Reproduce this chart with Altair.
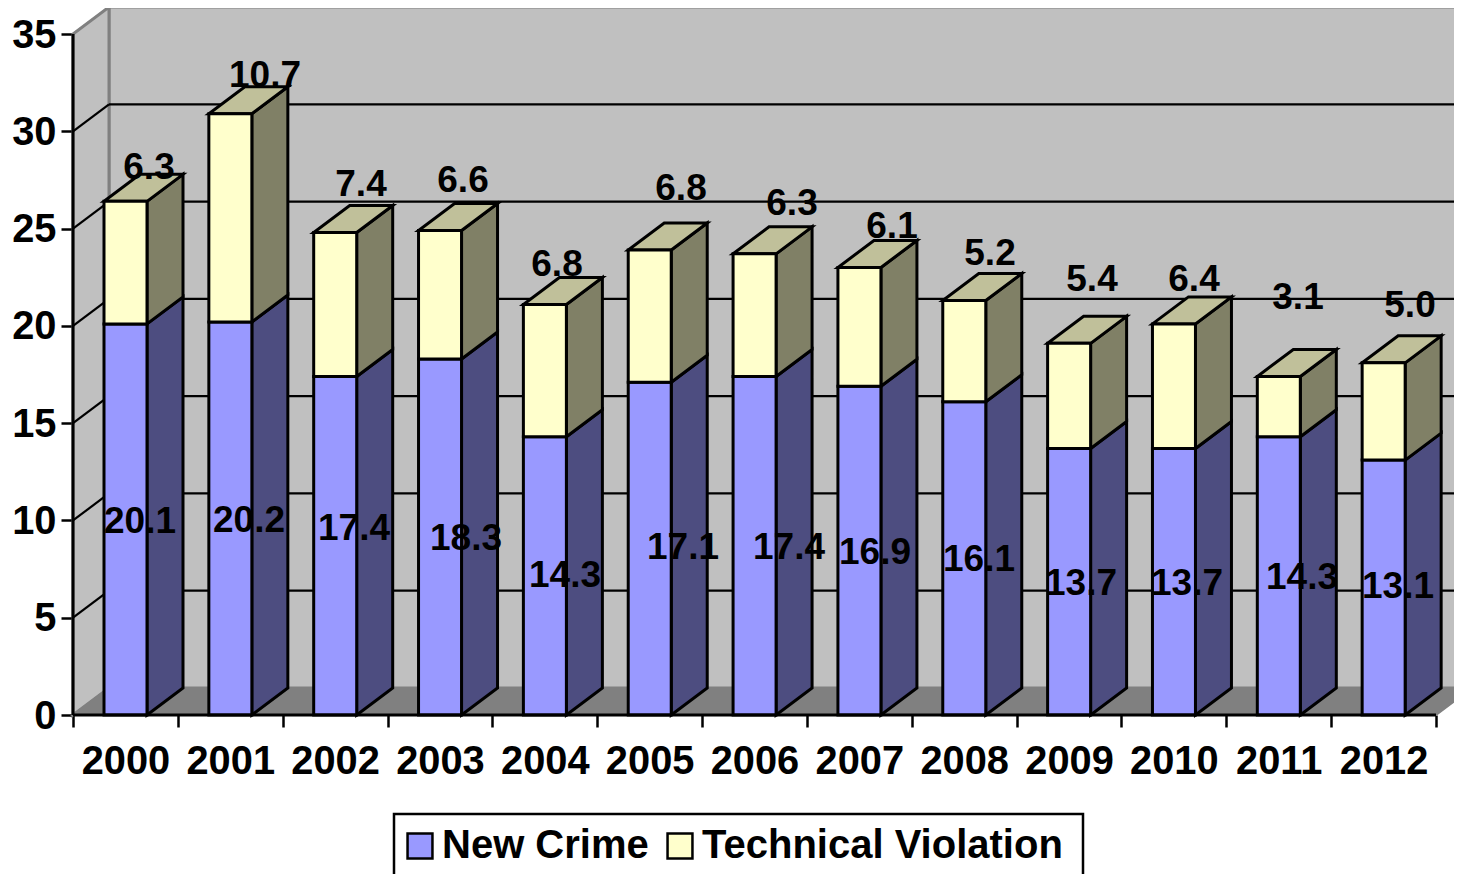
import altair as alt
import pandas as pd

years = list(range(2000, 2013))
new_crime = [20.1, 20.2, 17.4, 18.3, 14.3, 17.1, 17.4, 16.9, 16.1, 13.7, 13.7, 14.3, 13.1]
technical = [6.3, 10.7, 7.4, 6.6, 6.8, 6.8, 6.3, 6.1, 5.2, 5.4, 6.4, 3.1, 5.0]
y_ticks = [0, 5, 10, 15, 20, 25, 30, 35]

# label centres (page px)
new_lab_x = [140, 249, 354, 466, 565, 683, 789, 875, 979, 1081, 1187, 1302, 1398]
new_lab_y = [520, 519, 527, 537, 574, 546, 546, 551, 558, 582, 582, 576, 585]
tec_lab_x = [149, 265, 361, 463, 557, 681, 792, 892, 990, 1092, 1194, 1298, 1410]
tec_lab_y = [166, 74, 183, 179, 263, 187, 202, 225, 252, 278, 278, 296, 304]

UX = 104.846
UY = 19.457
X0, Y0 = 73, 715
W, H = 1446, 866
dx, dy = 36 / UX, 27 / UY
bar_l, bar_w = 31 / UX, 43 / UX

xs = alt.Scale(domain=[(8 - X0) / UX, (8 + W - X0) / UX], nice=False, zero=False)
ys = alt.Scale(domain=[(Y0 - 8 - H) / UY, (Y0 - 8) / UY], nice=False, zero=False)
X = lambda f="x", **k: alt.X(f + ":Q", scale=xs, title=None, **k)
Y = lambda f="y", **k: alt.Y(f + ":Q", scale=ys, title=None, **k)

WALL, FLOOR, EDGE = "#C0C0C0", "#808080", "#808080"
BLUE, BLUE_SIDE = "#9999FF", "#4D4D80"
YEL, YEL_SIDE, YEL_TOP = "#FFFFCC", "#808066", "#C0C09A"


def para(rows, gid, x, lo0, hi0):
    for a, b, c in zip(x, lo0, hi0):
        rows.append(dict(g=gid, px=a, lo=b, hi=c))


def area(rows, fill, stroke, sw=3):
    return alt.Chart(pd.DataFrame(rows)).mark_area(
        fill=fill, stroke=stroke, strokeWidth=sw, opacity=1, interpolate="linear", orient="vertical"
    ).encode(x=X("px"), y=alt.Y("lo:Q", scale=ys, title=None, stack=None), y2=alt.Y2("hi"), detail="g:N")


# walls
left_wall = []
para(left_wall, 0, [0, dx], [0, dy], [35, 35 + dy])
floor = []
para(floor, 0, [0, dx, 13, 13 + dx], [0, 0, 0, dy], [0, dy, dy, dy])
back = pd.DataFrame([dict(x=dx, x2=13 + dx + 0.5, y=dy, y2=35 + dy)])

back_rect = alt.Chart(back).mark_rect(fill=WALL, stroke=EDGE, strokeWidth=3).encode(
    x=X(), x2="x2:Q", y=Y(), y2="y2:Q")

grid_df = pd.DataFrame([dict(x=dx, x2=13 + dx, y=v + dy) for v in y_ticks[1:-1]])
grid = alt.Chart(grid_df).mark_rule(color="black", strokeWidth=2.2).encode(
    x=X(), x2="x2:Q", y=Y())

diag = []
for v in y_ticks[1:-1]:
    diag += [dict(g=v, x=0, y=v), dict(g=v, x=dx, y=v + dy)]
diag_l = alt.Chart(pd.DataFrame(diag)).mark_line(color="black", strokeWidth=2.2).encode(
    x=X(), y=Y(), detail="g:N")

# bars
sides_b, sides_y, tops, fronts = [], [], [], []
for i, (a, b) in enumerate(zip(new_crime, technical)):
    l = i + bar_l
    r = l + bar_w
    t = a + b
    para(sides_b, i, [r, r + dx], [0, dy], [a, a + dy])
    para(sides_y, i, [r, r + dx], [a, a + dy], [t, t + dy])
    para(tops, i, [l, l + dx, r, r + dx], [t, t, t, t + dy], [t, t + dy, t + dy, t + dy])
    fronts.append(dict(s="New Crime", x=l, x2=r, y=0, y2=a))
    fronts.append(dict(s="Technical Violation", x=l, x2=r, y=a, y2=t))

front = alt.Chart(pd.DataFrame(fronts)).mark_rect(stroke="black", strokeWidth=3).encode(
    x=X(), x2="x2:Q", y=Y(), y2="y2:Q",
    color=alt.Color("s:N", scale=alt.Scale(domain=["New Crime", "Technical Violation"], range=[BLUE, YEL]),
                    legend=alt.Legend(
                        title=None, orient="none", legendX=392, legendY=818, direction="horizontal",
                        symbolType="square", symbolSize=620, symbolStrokeColor="black", symbolStrokeWidth=2.5,
                        labelFont="Liberation Sans", labelFontWeight="bold", labelFontSize=40,
                        labelColor="black", labelLimit=500, padding=0, columnPadding=11, labelOffset=2,
                        symbolOpacity=1, zindex=1)),
)

# frame of the legend
legend_box = alt.Chart(pd.DataFrame([dict(
    x=(394 - X0) / UX, x2=(1083 - X0) / UX, y=(Y0 - 814) / UY, y2=(Y0 - 890) / UY)])).mark_rect(
    fill="white", stroke="black", strokeWidth=2.5).encode(x=X(), x2="x2:Q", y=Y(), y2="y2:Q")

# axis lines + real axes
axis_df = pd.DataFrame([dict(x=0, x2=13, y=0)])
x_line = alt.Chart(axis_df).mark_rule(color="black", strokeWidth=3).encode(x=X(), x2="x2:Q", y=Y())
y_line = alt.Chart(pd.DataFrame([dict(x=0, y=0, y2=35)])).mark_rule(color="black", strokeWidth=3).encode(
    x=X(), y=Y(), y2="y2:Q")

axes = alt.Chart(pd.DataFrame([dict(x=0, y=0)])).mark_point(opacity=0).encode(
    x=X(axis=alt.Axis(values=list(range(14)), offset=-(8 + H - Y0), domain=False, grid=False, tickColor="black",
                      tickWidth=2.5, tickSize=12, labelFont="Liberation Sans", labelFontWeight="bold",
                      labelFontSize=39.8, labelColor="black", labelPadding=15, labelOffset=52.4,
                      labelFlush=False, labelOverlap=False, labelAngle=0, labelAlign="center",
                      labelExpr="datum.value < 13 ? '' + (2000 + datum.value) : ''")),
    y=Y(axis=alt.Axis(values=y_ticks, offset=-(X0 - 8), domain=False, grid=False, tickColor="black",
                      tickWidth=2.5, tickSize=12, labelFont="Liberation Sans", labelFontWeight="bold",
                      labelFontSize=39.8, labelColor="black", labelPadding=5, labelFlush=False,
                      labelOverlap=False, labelOffset=1, format="d")),
)

# data labels
labs = []
for vals, lx, ly in [(new_crime, new_lab_x, new_lab_y), (technical, tec_lab_x, tec_lab_y)]:
    for v, a, b in zip(vals, lx, ly):
        labs.append(dict(x=(a - X0) / UX, y=(Y0 - b) / UY, t=f"{v:.1f}"))
labels = alt.Chart(pd.DataFrame(labs)).mark_text(
    font="Liberation Sans", fontWeight="bold", fontSize=37, color="black", align="center", baseline="middle",
    dy=2
).encode(x=X(), y=Y(), text="t:N")

chart = alt.layer(
    axes,
    back_rect,
    area(left_wall, WALL, EDGE, 3),
    area(floor, FLOOR, EDGE, 2),
    grid,
    diag_l,
    area(sides_b, BLUE_SIDE, "black"),
    area(sides_y, YEL_SIDE, "black"),
    area(tops, YEL_TOP, "black"),
    front,
    x_line,
    y_line,
    labels,
    legend_box,
).properties(
    width=W, height=H, padding=0,
    autosize=alt.AutoSizeParams(type="none"),
).configure(background="white", view=alt.ViewConfig(stroke=None))

chart.save("out.html", embed_options={"renderer": "svg", "actions": False})
